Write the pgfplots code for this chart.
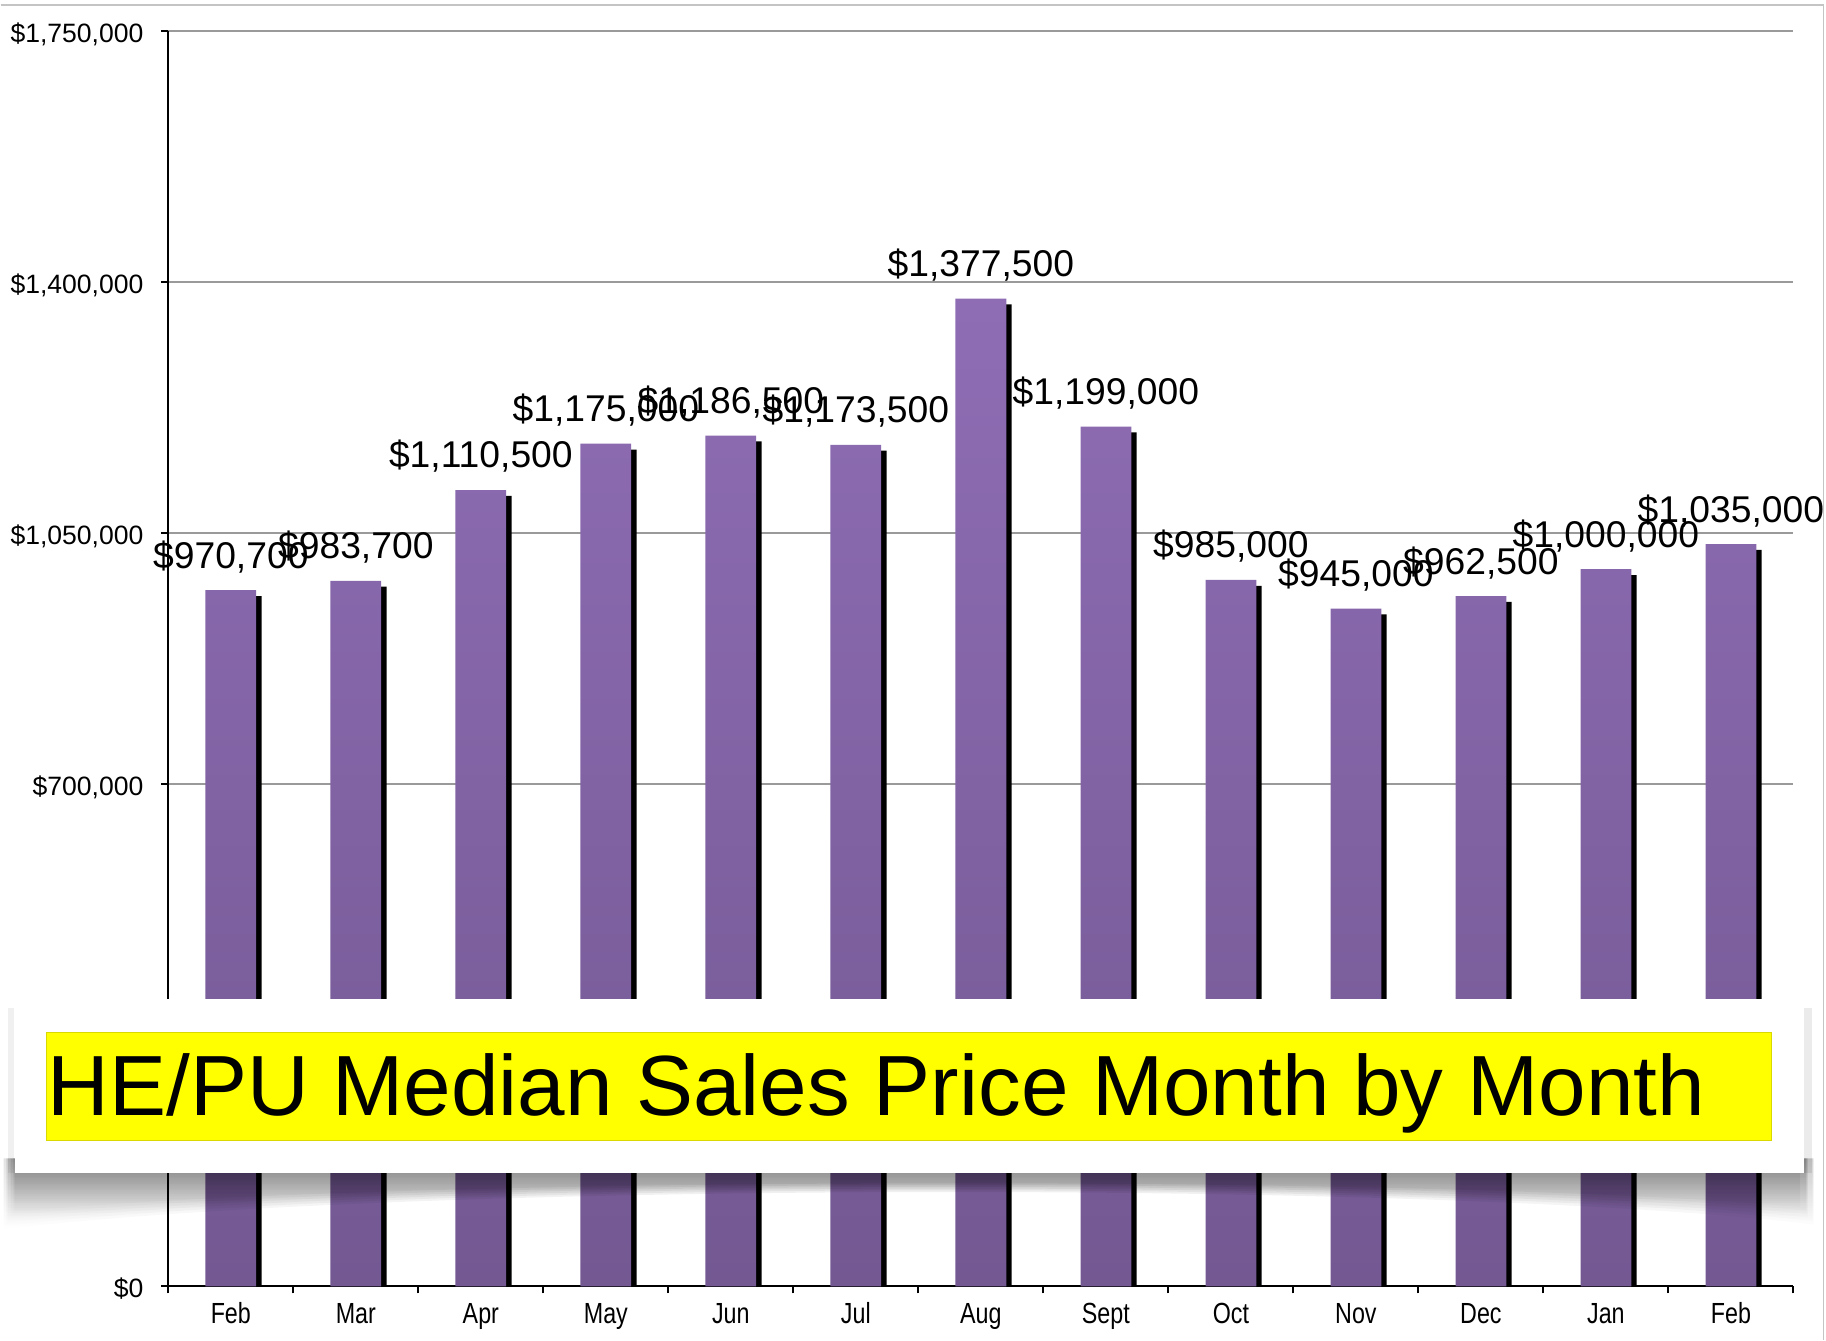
\documentclass[border=0pt]{standalone}
\usepackage{fontspec}
\setmainfont{Liberation Sans}
\newfontfamily\narrowfont[FakeStretch=0.8]{Liberation Sans}
\usepackage{pgfplots}
\pgfplotsset{compat=1.18}
\usetikzlibrary{fadings}
\definecolor{barTop}{HTML}{8F6DB5}
\definecolor{barBot}{HTML}{735892}
\definecolor{gridgray}{HTML}{9A9A9A}
\definecolor{framegray}{HTML}{C4C4C4}
\definecolor{bannerYellow}{HTML}{FFFF00}
\begin{document}
\begin{tikzpicture}
\begin{scope}[shift={(-72pt,552.5pt)},x=0.5pt,y=-0.5pt]
\path[use as bounding box] (0,0) rectangle (1568,1151);
\end{scope}
\begin{axis}[
  at={(0pt,0pt)}, anchor=south west,
  scale only axis, width=698pt, height=539pt,
  xmin=-0.5, xmax=12.5, ymin=0, ymax=1750000,
  axis lines=left, axis line style={-, line width=1pt, black},
  xtick={0,...,12},
  xticklabels={Feb,Mar,Apr,May,Jun,Jul,Aug,Sept,Oct,Nov,Dec,Jan,Feb},
  minor xtick={-0.5,0.5,...,12.5},
  ytick={0,350000,700000,1050000,1400000,1750000},
  yticklabels={{\mbox{\$0}},{\mbox{\$350,000}},{\mbox{\$700,000}},{\mbox{\$1,050,000}},{\mbox{\$1,400,000}},{\mbox{\$1,750,000}}},
  minor ytick={0,350000,700000,1050000,1400000,1750000},
  scaled y ticks=false,
  major tick length=0pt, minor tick length=3pt,
  tick align=outside,
  minor tick style={black, line width=0.9pt},
  ymajorgrids, major grid style={gridgray, line width=0.85pt},
  xticklabel style={font=\narrowfont\fontsize{12.5}{12.5}\selectfont, anchor=base, inner sep=0pt, yshift=-16pt},
  yticklabel style={font=\fontsize{11.4}{11.4}\selectfont, anchor=base east, inner sep=0pt, xshift=-10.5pt, yshift=-4.9pt},
]
\addplot[ybar, bar width=21.8pt, bar shift=2.3pt, yshift=-2.5pt, fill=black, draw=none, forget plot]
coordinates {(0,970700) (1,983700) (2,1110500) (3,1175000) (4,1186500) (5,1173500) (6,1377500) (7,1199000) (8,985000) (9,945000) (10,962500) (11,1000000) (12,1035000)};
\addplot[ybar, bar width=21.8pt, bar shift=0pt, draw=none, top color=barTop, bottom color=barBot,
  nodes near coords, point meta=explicit symbolic,
  every node near coord/.append style={font=\fontsize{16}{16}\selectfont, anchor=base, inner sep=0pt, yshift=9.5pt, text=black}]
coordinates {
(0,970700) [\$970{,}700]
(1,983700) [\$983{,}700]
(2,1110500) [\$1{,}110{,}500]
(3,1175000) [\$1{,}175{,}000]
(4,1186500) [\$1{,}186{,}500]
(5,1173500) [\$1{,}173{,}500]
(6,1377500) [\$1{,}377{,}500]
(7,1199000) [\$1{,}199{,}000]
(8,985000) [\$985{,}000]
(9,945000) [\$945{,}000]
(10,962500) [\$962{,}500]
(11,1000000) [\$1{,}000{,}000]
(12,1035000) [\$1{,}035{,}000]
};
\end{axis}
\begin{scope}[shift={(-72pt,552.5pt)},x=0.5pt,y=-0.5pt]
 \foreach \i in {0,...,5}{
   \fill[black, opacity=0.11, path fading=south]
     ({3+2*\i},995) -- ({1559-2*\i},995) -- ({1559-2*\i},{1052-3*\i}) .. controls (1250,{1014-1*\i}) and (350,{1014-1*\i}) .. ({3+2*\i},{1056-3*\i}) -- cycle;
 }
 \fill[black, opacity=0.08] (1546,866) rectangle (1556,1008);
 \fill[black, opacity=0.06] (6,866) rectangle (11,1008);
 \fill[white] (12,858) rectangle (1549,1008);
 \fill[bannerYellow, draw=bannerYellow!85!black, line width=0.3pt] (39,887) rectangle (1521,980);
 \node[anchor=base west, inner sep=0pt, font=\fontsize{36.7}{36.7}\selectfont] at (40,958) {HE/PU Median Sales Price Month by Month};
 \draw[framegray, line width=0.6pt] (0,4.3) -- (1566,4.3) -- (1566,1151);
\end{scope}
\end{tikzpicture}
\end{document}
